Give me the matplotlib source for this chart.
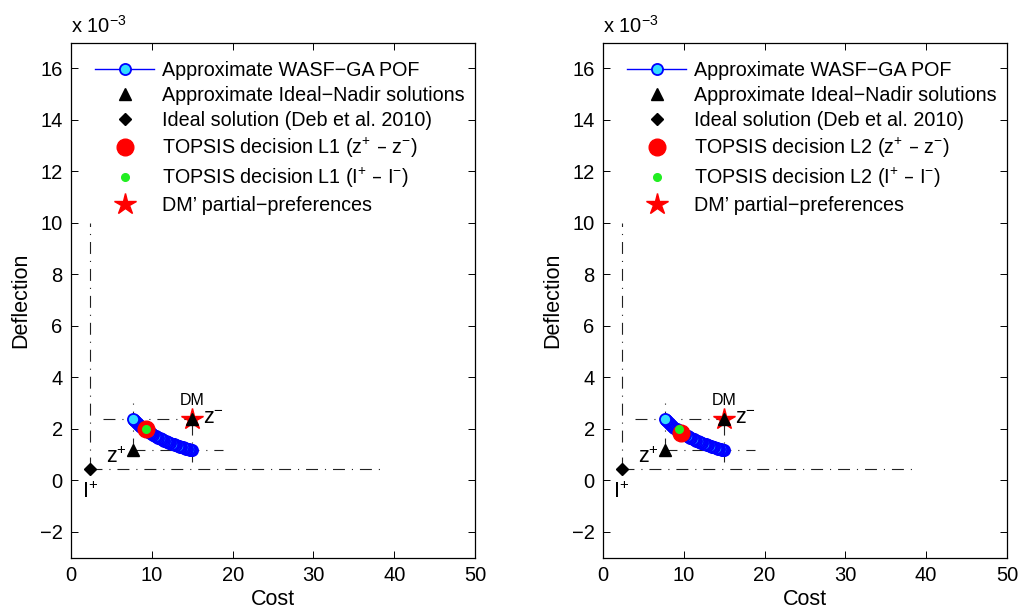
import numpy as np
import matplotlib
matplotlib.use("Agg")
import matplotlib.pyplot as plt

plt.rcParams['font.family'] = ['Liberation Sans', 'DejaVu Sans']
plt.rcParams['mathtext.default'] = 'regular'
plt.rcParams['axes.unicode_minus'] = True
plt.rcParams['lines.scale_dashes'] = False

# Approximate WASF-GA Pareto front (cost, deflection x 1e-3), drawn from right to left
pof_cost = [14.94, 14.85, 14.70, 14.55, 14.40, 14.25, 14.10, 13.95, 13.80, 13.65,
            13.50, 13.35, 13.20, 13.05, 12.90, 12.75, 12.60, 12.45, 12.30, 12.15,
            12.00, 11.85, 11.70, 11.55, 11.40, 11.25, 11.10, 10.95, 10.80, 10.65,
            10.50, 10.35, 10.20, 10.05, 9.90, 9.75, 9.60, 9.45, 9.30, 9.15,
            9.00, 8.85, 8.70, 8.55, 8.40, 8.25, 8.12, 8.00, 7.90, 7.82, 7.76, 7.70]
pof_defl = [1.180, 1.188, 1.201, 1.214, 1.228, 1.241, 1.255, 1.270, 1.285, 1.300,
            1.315, 1.331, 1.347, 1.363, 1.380, 1.397, 1.415, 1.433, 1.452, 1.471,
            1.490, 1.510, 1.530, 1.551, 1.573, 1.595, 1.618, 1.641, 1.665, 1.690,
            1.715, 1.741, 1.768, 1.796, 1.824, 1.853, 1.884, 1.915, 1.947, 1.981,
            2.015, 2.051, 2.087, 2.126, 2.165, 2.206, 2.243, 2.278, 2.307, 2.332, 2.351, 2.370]

# approximate ideal (z+) and nadir (z-) points
zplus = (7.72, 1.18)
zminus = (14.94, 2.37)
# ideal solution of Deb et al. 2010 (I+)
iplus = (2.35, 0.43)
# DM partial preferences
dm = (14.94, 2.37)

# TOPSIS decisions per panel: (z+ - z-) and (I+ - I-)
topsis_z = {'L1': (9.28, 1.99), 'L2': (9.65, 1.84)}
topsis_i = {'L1': (9.30, 1.99), 'L2': (9.37, 1.99)}

# dash-dot guide lines: (x0, x1, y0, y1)
guides = [(2.35, 2.35, 0.43, 10.0),
          (2.35, 38.4, 0.43, 0.43),
          (3.96, 14.94, 2.37, 2.37),
          (7.72, 18.8, 1.18, 1.18),
          (7.72, 7.72, 1.18, 3.0),
          (14.94, 14.94, 0.72, 2.37)]

fig = plt.figure(figsize=(10.22, 6.10), dpi=100)
panels = [('L1', 0.0695), ('L2', 0.590)]

for name, left in panels:
    ax = fig.add_axes([left, 0.0857, 0.3953, 0.8443])
    for x0, x1, y0, y1 in guides:
        ax.plot([x0, x1], [y0, y1], color='#222222', lw=0.8,
                dashes=(8.6, 5.0, 0.8, 5.0), zorder=1)

    ax.plot(pof_cost, pof_defl, '-o', color='blue', mfc='#33ddff', mec='blue',
            ms=8, mew=1.3, lw=1, zorder=3, label='Approximate WASF\u2212GA POF')
    ax.plot(dm[0], dm[1], '*', color='red', ms=16, mec='red', zorder=4,
            label='DM\u2019 partial\u2212preferences')
    ax.plot([zplus[0], zminus[0]], [zplus[1], zminus[1]], '^', color='black',
            ms=9, ls='none', zorder=5, label='Approximate Ideal\u2212Nadir solutions')
    ax.plot(iplus[0], iplus[1], 'D', color='black', ms=6.5, zorder=5,
            label='Ideal solution (Deb et al. 2010)')
    ax.plot(*topsis_z[name], 'o', color='red', ms=12, zorder=6,
            label='TOPSIS decision %s (z$^{+}$ \u2013 z$^{\u2212}$)' % name)
    ax.plot(*topsis_i[name], 'o', color='#22ee22', ms=5.5, zorder=7,
            label='TOPSIS decision %s (I$^{+}$ \u2013 I$^{\u2212}$)' % name)

    ax.text(dm[0], 2.8, 'DM', fontsize=11.5, ha='center', va='bottom')
    ax.text(16.3, 2.42, 'z$^{\u2212}$', fontsize=15.5, ha='left', va='center')
    ax.text(4.3, 0.9, 'z$^{+}$', fontsize=15.5, ha='left', va='center')
    ax.text(1.3, -0.45, 'I$^{+}$', fontsize=15.5, ha='left', va='center')

    ax.set_xlim(0, 50)
    ax.set_ylim(-3, 17)
    ax.set_xticks([0, 10, 20, 30, 40, 50])
    ax.set_yticks(np.arange(-2, 17, 2))
    ax.tick_params(direction='in', top=True, right=True, length=5, width=0.7,
                   labelsize=14.5, pad=6)
    for s in ax.spines.values():
        s.set_linewidth(0.9)
    ax.set_xlabel('Cost', fontsize=15.5, labelpad=3)
    ax.set_ylabel('Deflection', fontsize=15.5, labelpad=6)
    ax.text(0, 1.012, 'x 10$^{\u22123}$', transform=ax.transAxes, fontsize=14.5,
            ha='left', va='bottom')

    h, l = ax.get_legend_handles_labels()
    order = [0, 2, 3, 4, 5, 1]
    ax.legend([h[i] for i in order], [l[i] for i in order], loc='upper left',
              bbox_to_anchor=(0.04, 0.98), frameon=False, fontsize=14.2,
              handlelength=3.0, handletextpad=0.4, labelspacing=0.3,
              borderaxespad=0, numpoints=1)

fig.savefig('out.png', dpi=100)
